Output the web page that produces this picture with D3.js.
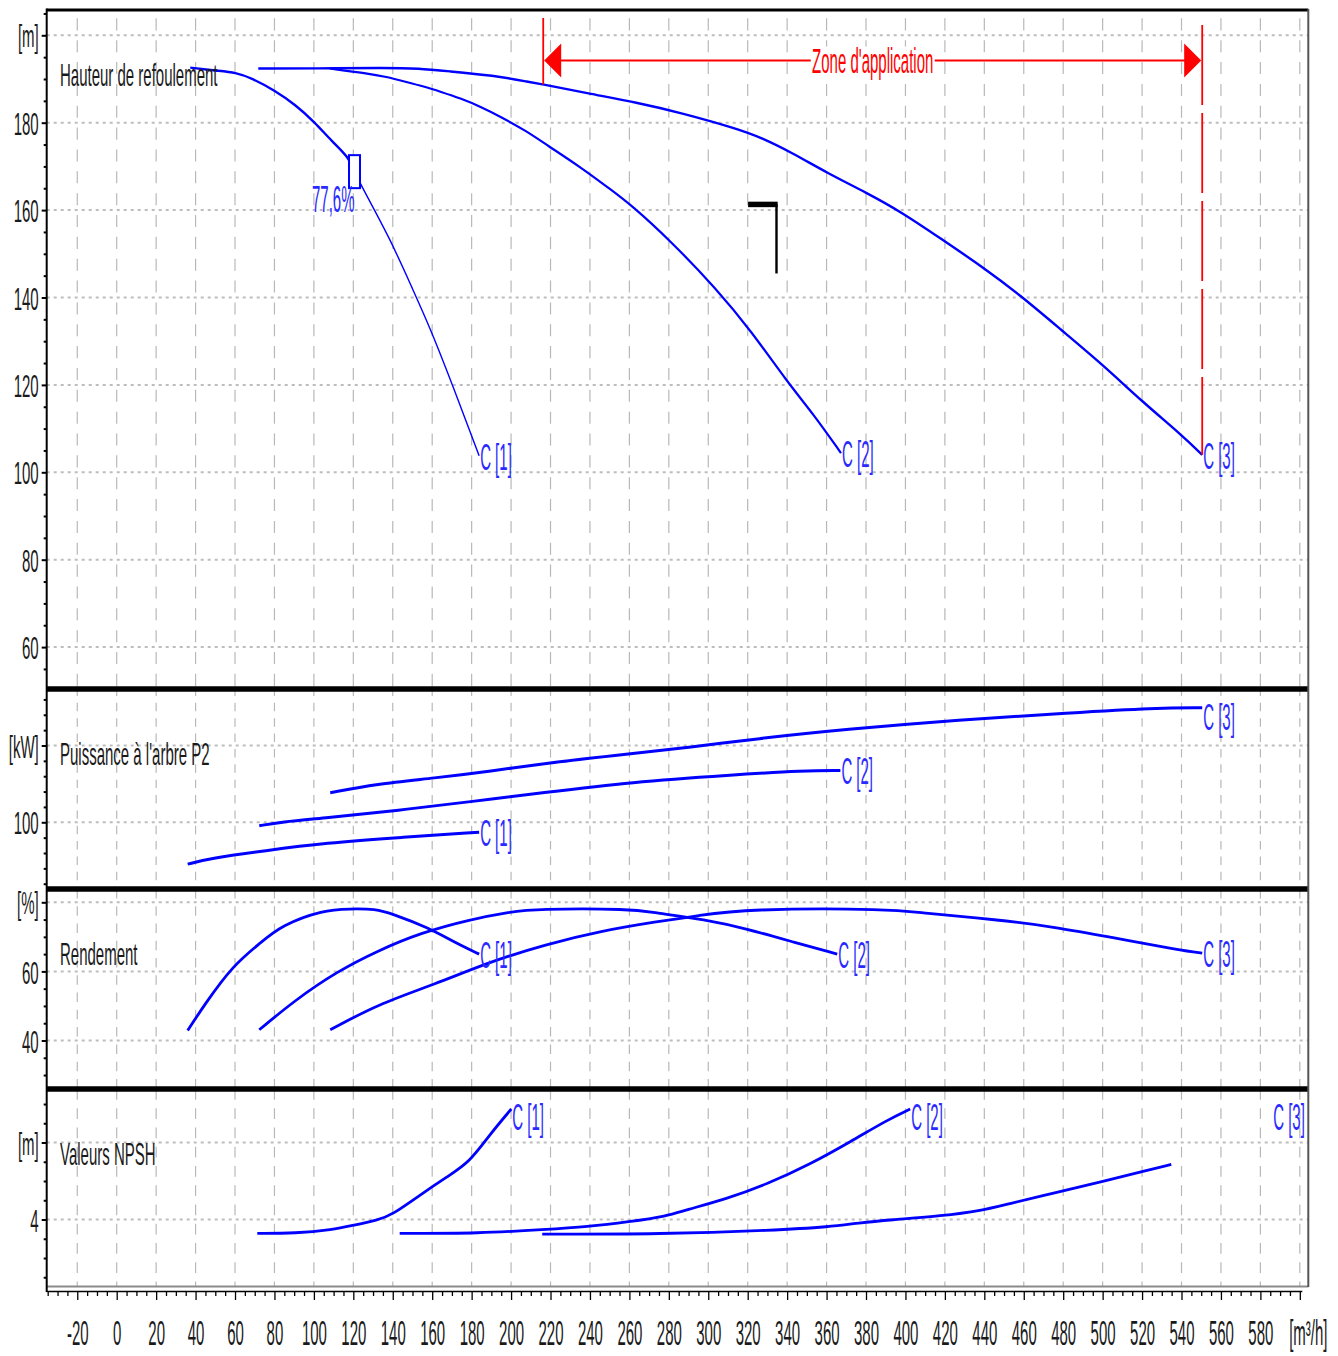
<!DOCTYPE html>
<html><head><meta charset="utf-8">
<script src="https://cdn.jsdelivr.net/npm/d3@7"></script>
<style>html,body{margin:0;padding:0;background:#fff;} svg{display:block;background:#fff;}</style>
</head><body>
<svg id="chart" width="1338" height="1356"></svg>
<script>
// ---------------- DATA ----------------
const curveLabels = ["C [1]", "C [2]", "C [3]"];
const panelTitles = ["Hauteur de refoulement", "Puissance à l'arbre P2", "Rendement", "Valeurs NPSH"];
const panelUnits = ["[m]", "[kW]", "[%]", "[m]"];
const xTicks = d3.range(-20, 601, 20);
const xUnit = "[m³/h]";
const headTicks = [60, 80, 100, 120, 140, 160, 180, 200];
const powerTicks = [100, 120];
const effTicks = [40, 60, 80];
const npshTicks = [4, 6];

// Head H [m]
const headQ1 = [37.3, 50.5, 60.5, 68.4, 79.7, 91.0, 100.2, 109.2, 117.7, 120.6, 123.9, 138.6, 149.9, 159.0, 170.3, 183.8];
const headH1 = [192.6, 191.9, 191.5, 190.2, 187.5, 184.0, 180.2, 175.7, 172.1, 168.8, 165.7, 153.5, 142.1, 133.0, 120.0, 103.8];
const headQ2 = [108, 127, 136.7, 146.3, 156.5, 164.1, 174.2, 184.9, 195, 207.7, 217.8, 236, 249.6, 260.9, 281.2, 303.9, 322, 340, 353.7, 367.3];
const headH2 = [192.4, 191.3, 190.5, 189.4, 188.2, 187.1, 185.6, 183.6, 181.3, 178.1, 175.0, 169.6, 165.0, 161.2, 152.8, 142.1, 132.2, 120.7, 113.1, 104.4];
const headQ3 = [71.8, 101.2, 136.7, 153.4, 167.6, 191.4, 208.2, 222.9, 239.1, 264, 285.8, 314.2, 327.4, 342.6, 360.3, 380.6, 397.8, 417.9, 440, 458, 480, 500.1, 520, 540.2, 550.5];
const headH3 = [192.4, 192.4, 192.6, 192.4, 191.8, 190.8, 189.4, 188.2, 186.7, 184.6, 182.3, 178.7, 176.5, 173.1, 168.5, 163.9, 159.6, 153.5, 146.7, 140.6, 132.2, 124.6, 116.2, 108.5, 104.0];

// Power P2 [kW]
const powQ1 = [36, 47.4, 75.3, 105.7, 144.3, 183.8];
const powP1 = [89.1, 90.6, 92.6, 94.6, 96.1, 97.4];
const powQ2 = [72.3, 83.4, 104.7, 142.8, 181.3, 214.8, 261.4, 311.1, 349.2, 367];
const powP2 = [99.1, 100.1, 101.1, 103.1, 105.5, 107.6, 110.5, 112.3, 113.5, 113.5];
const powQ3 = [108.3, 131.6, 161, 191, 219.3, 250.8, 293.4, 323.3, 369.5, 427.3, 483.5, 526.6, 550.5];
const powP3 = [107.7, 110.0, 111.5, 113.4, 115.5, 117.3, 119.7, 121.7, 124.2, 126.7, 128.5, 129.8, 129.8];

// Efficiency [%]
const effQ1 = [36, 44.8, 58.9, 73, 83.4, 104.7, 118.4, 131.1, 140, 157.5, 171.7, 183.8];
const effE1 = [42.9, 50.6, 61.7, 68.3, 73.3, 77.8, 78.1, 78.1, 76.6, 72.8, 68.3, 65.0];
const effQ2 = [72.3, 90.5, 111.8, 132.9, 153.9, 178.8, 199.9, 212.2, 261.4, 272.1, 298.4, 319.7, 344.4, 365.4];
const effE2 = [43.1, 51.7, 60.0, 66.1, 71.1, 75.0, 77.2, 78.1, 78.1, 77.0, 75.0, 72.3, 68.3, 65.0];
const effQ3 = [108.3, 132.9, 161, 189.3, 217.5, 245.7, 273.9, 294.9, 318, 393.8, 407.5, 446.5, 476.4, 502.8, 539.8, 550.5];
const effE3 = [43.1, 50.6, 56.2, 62.8, 67.8, 71.7, 74.4, 76.1, 78.1, 78.1, 76.9, 75.0, 72.8, 70.0, 66.1, 65.3];

// NPSH [m]
const npshQ1 = [71.3, 90.5, 109.8, 118.9, 132.6, 139.7, 153.9, 168.1, 178.8, 189.4, 200.1];
const npshN1 = [3.64, 3.64, 3.74, 3.84, 3.99, 4.12, 4.64, 5.13, 5.48, 6.22, 6.87];
const npshQ2 = [143.5, 184, 217.5, 238.6, 259.9, 279.2, 288, 309.1, 330.4, 351.5, 372.5, 390.2, 402.4];
const npshN2 = [3.64, 3.64, 3.74, 3.81, 3.94, 4.09, 4.24, 4.53, 4.93, 5.43, 6.03, 6.57, 6.87];
const npshQ3 = [215.8, 275.6, 334, 361.8, 376.1, 392, 418.4, 439.4, 450.1, 478.5, 499.5, 520.6, 534.8];
const npshN3 = [3.62, 3.62, 3.72, 3.81, 3.91, 3.99, 4.09, 4.24, 4.38, 4.73, 4.98, 5.25, 5.43];
const npshLabel3Q = 586;

// Best efficiency point & application zone
const bepQ = 120.6, bepH = 168.8, bepText = "77,6%";
const zoneQ = [216.3, 550.5];
const zoneText = "Zone d'application";
const markQ = [320.2, 334.6], markH = [161.3, 145.5];

// ---------------- LAYOUT ----------------
const svg = d3.select("#chart");
const FONT = "'Liberation Sans', Arimo, Arial, sans-serif";
const XL = 46.7, XR = 1308.3;
const x = d3.scaleLinear().domain([-35.5, 604.3]).range([XL, XR]);

const panels = [
  {top: 10, bottom: 689, domain: [50.41, 205.79], ticks: headTicks, minor: 5},
  {top: 689, bottom: 889, domain: [82.63, 134.71], ticks: powerTicks, minor: 4},
  {top: 889, bottom: 1089, domain: [25.96, 83.85], ticks: effTicks, minor: 5},
  {top: 1089, bottom: 1287, domain: [2.247, 7.39], ticks: npshTicks, minor: 0.5}
];
panels.forEach(p => { p.y = d3.scaleLinear().domain(p.domain).range([p.bottom, p.top]); });

const defs = svg.append("defs");
panels.forEach((p, i) => {
  defs.append("clipPath").attr("id", "clip" + i).append("rect")
    .attr("x", XL).attr("y", p.top).attr("width", XR - XL).attr("height", p.bottom - p.top);
});

function addText(g, tx, ty, s, o = {}) {
  return g.append("text")
    .attr("transform", `translate(${tx},${ty}) scale(1,${o.sy || 2.15})`)
    .attr("text-anchor", o.anchor || "start")
    .style("font-family", FONT).style("font-size", (o.size || 15) + "px")
    .attr("fill", o.fill || "#1a1a1a").text(s);
}

// ---------------- GRID ----------------
const grid = svg.append("g");
panels.forEach((p, i) => {
  const g = grid.append("g").attr("clip-path", `url(#clip${i})`);
  const step = p.minor;
  const pxStep = Math.abs(p.y(0) - p.y(step));
  const dash = pxStep * 0.55, gap = pxStep - dash;
  const v0 = Math.floor(p.domain[0] / step) * step;
  g.selectAll("line.v").data(xTicks).join("line").attr("class", "v")
    .attr("x1", d => x(d)).attr("x2", d => x(d))
    .attr("y1", p.y(v0)).attr("y2", p.top)
    .attr("stroke", "#b8b8b8").attr("stroke-width", 1.2)
    .attr("stroke-dasharray", `${dash},${gap}`)
    .attr("stroke-dashoffset", dash + gap / 2);
  g.selectAll("line.h").data(p.ticks).join("line").attr("class", "h")
    .attr("x1", XL).attr("x2", XR)
    .attr("y1", d => p.y(d)).attr("y2", d => p.y(d))
    .attr("stroke", "#bdbdbd").attr("stroke-width", 2)
    .attr("stroke-dasharray", "3,4");
});

// ---------------- CURVES ----------------
const BLUE = "#0000ff", LBLUE = "#2a2aff", RED = "#ff0000";
const pts = (qs, vs) => qs.map((q, i) => [q, vs[i]]);
function drawLine(p, data, w) {
  const line = d3.line().x(d => x(d[0])).y(d => p.y(d[1])).curve(d3.curveBasis);
  svg.append("path").datum(data).attr("d", line)
    .attr("fill", "none").attr("stroke", BLUE).attr("stroke-width", w)
    .attr("stroke-linejoin", "round");
}
const [P0, P1, P2, P3] = panels;

// Head
const bepIdx = headQ1.indexOf(bepQ);
const h1 = pts(headQ1, headH1);
drawLine(P0, h1.slice(0, bepIdx + 1), 2.4);
drawLine(P0, h1.slice(bepIdx), 1.4);
drawLine(P0, pts(headQ2, headH2), 2.2);
drawLine(P0, pts(headQ3, headH3), 2.4);
// Power
drawLine(P1, pts(powQ1, powP1), 3);
drawLine(P1, pts(powQ2, powP2), 3);
drawLine(P1, pts(powQ3, powP3), 3);
// Efficiency
drawLine(P2, pts(effQ1, effE1), 2.8);
drawLine(P2, pts(effQ2, effE2), 2.8);
drawLine(P2, pts(effQ3, effE3), 2.8);
// NPSH
drawLine(P3, pts(npshQ1, npshN1), 2.8);
drawLine(P3, pts(npshQ2, npshN2), 2.8);
drawLine(P3, pts(npshQ3, npshN3), 2.8);

// BEP box
svg.append("rect")
  .attr("x", x(bepQ) - 5.5).attr("y", P0.y(bepH) - 16.5)
  .attr("width", 11).attr("height", 33)
  .attr("fill", "#fff").attr("stroke", BLUE).attr("stroke-width", 2);
addText(svg, x(bepQ), P0.y(bepH) + 40, bepText, {anchor: "end", sy: 2.5, fill: LBLUE});

// Curve end labels
const CAP = 0.72 * 15 * 2.5;
function curveLabel(p, q, v, s) {
  const endY = v == null ? -1e9 : p.y(v);
  const top = Math.max(endY - 13, p.top + 14);
  addText(svg, x(q) + 1, top + CAP, s, {sy: 2.5, fill: LBLUE});
}
curveLabel(P0, headQ1[headQ1.length - 1], headH1[headH1.length - 1], curveLabels[0]);
curveLabel(P0, headQ2[headQ2.length - 1], headH2[headH2.length - 1], curveLabels[1]);
curveLabel(P0, headQ3[headQ3.length - 1], headH3[headH3.length - 1], curveLabels[2]);
curveLabel(P1, powQ1[powQ1.length - 1], powP1[powP1.length - 1], curveLabels[0]);
curveLabel(P1, powQ2[powQ2.length - 1], powP2[powP2.length - 1], curveLabels[1]);
curveLabel(P1, powQ3[powQ3.length - 1], powP3[powP3.length - 1], curveLabels[2]);
curveLabel(P2, effQ1[effQ1.length - 1], effE1[effE1.length - 1], curveLabels[0]);
curveLabel(P2, effQ2[effQ2.length - 1], effE2[effE2.length - 1], curveLabels[1]);
curveLabel(P2, effQ3[effQ3.length - 1], effE3[effE3.length - 1], curveLabels[2]);
curveLabel(P3, npshQ1[npshQ1.length - 1], npshN1[npshN1.length - 1], curveLabels[0]);
curveLabel(P3, npshQ2[npshQ2.length - 1], npshN2[npshN2.length - 1], curveLabels[1]);
curveLabel(P3, npshLabel3Q, null, curveLabels[2]);

// black mark
svg.append("line").attr("x1", x(markQ[0])).attr("x2", x(markQ[1]) + 1.2)
  .attr("y1", P0.y(markH[0])).attr("y2", P0.y(markH[0]))
  .attr("stroke", "#000").attr("stroke-width", 5.5);
svg.append("line").attr("x1", x(markQ[1])).attr("x2", x(markQ[1]))
  .attr("y1", P0.y(markH[0])).attr("y2", P0.y(markH[1]))
  .attr("stroke", "#000").attr("stroke-width", 2.4);

// ---------------- APPLICATION ZONE ----------------
const h3 = d3.scaleLinear().domain(headQ3).range(headH3);
const zx0 = x(zoneQ[0]), zx1 = x(zoneQ[1]);
const zTop = 18, zArrowY = 60.5;
svg.append("line").attr("x1", zx0).attr("x2", zx0).attr("y1", zTop).attr("y2", P0.y(h3(zoneQ[0])))
  .attr("stroke", RED).attr("stroke-width", 1.8);
svg.append("line").attr("x1", zx1).attr("x2", zx1).attr("y1", zTop).attr("y2", P0.y(h3(zoneQ[1])))
  .attr("stroke", RED).attr("stroke-width", 1.8)
  .attr("stroke-dasharray", "80,8").attr("stroke-dashoffset", 81);
svg.append("line").attr("x1", zx0 + 10).attr("x2", zx1 - 10).attr("y1", zArrowY).attr("y2", zArrowY)
  .attr("stroke", RED).attr("stroke-width", 2.2);
svg.append("path").attr("d", `M${zx0 + 1},${zArrowY} L${zx0 + 18},${zArrowY - 17} L${zx0 + 18},${zArrowY + 17} Z`).attr("fill", RED);
svg.append("path").attr("d", `M${zx1 - 1},${zArrowY} L${zx1 - 18},${zArrowY - 17} L${zx1 - 18},${zArrowY + 17} Z`).attr("fill", RED);
const zMid = (zx0 + zx1) / 2;
svg.append("rect").attr("x", zMid - 62).attr("y", zArrowY - 14).attr("width", 124).attr("height", 28).attr("fill", "#fff");
addText(svg, zMid, zArrowY + 12, zoneText, {anchor: "middle", sy: 2.3, fill: RED});

// ---------------- TITLES ----------------
panels.forEach((p, i) => addText(svg, 60, p.top + 76, panelTitles[i], {sy: 2.15}));

// ---------------- FRAME ----------------
svg.append("line").attr("x1", XL).attr("x2", XR).attr("y1", 10).attr("y2", 10)
  .attr("stroke", "#000").attr("stroke-width", 3);
[689, 889, 1089].forEach(yy => svg.append("line").attr("x1", XL).attr("x2", XR)
  .attr("y1", yy).attr("y2", yy).attr("stroke", "#000").attr("stroke-width", 5.5));
svg.append("line").attr("x1", XL).attr("x2", XR).attr("y1", 1286.5).attr("y2", 1286.5)
  .attr("stroke", "#8a8a8a").attr("stroke-width", 2);
svg.append("line").attr("x1", XR).attr("x2", XR).attr("y1", 9).attr("y2", 1287)
  .attr("stroke", "#555").attr("stroke-width", 2);

// ---------------- Y AXES ----------------
panels.forEach((p, i) => {
  const ax = svg.append("g").attr("transform", `translate(${XL},0)`);
  const minorVals = d3.range(Math.ceil(p.domain[0] / p.minor) * p.minor, p.domain[1], p.minor)
    .filter(v => !p.ticks.some(t => Math.abs(t - v) < 1e-6));
  const minorAxis = ax.append("g").call(d3.axisLeft(p.y).tickValues(minorVals).tickSize(3).tickFormat(""));
  minorAxis.select(".domain").remove();
  minorAxis.selectAll("line").attr("stroke", "#000").attr("stroke-width", 2);
  const top = p.ticks[p.ticks.length - 1];
  const major = ax.append("g").call(d3.axisLeft(p.y).tickValues(p.ticks).tickSize(5)
    .tickFormat(d => d === top ? panelUnits[i] : d));
  major.select(".domain").remove();
  major.selectAll("line").attr("stroke", "#000").attr("stroke-width", 2);
  major.selectAll("text")
    .attr("x", -8).attr("dy", "0.36em")
    .attr("transform", "scale(1,2.15)")
    .attr("fill", "#1a1a1a")
    .style("font-family", FONT).style("font-size", "15px");
});
svg.append("line").attr("x1", XL).attr("x2", XL).attr("y1", 8.5).attr("y2", 1292)
  .attr("stroke", "#000").attr("stroke-width", 2);

// ---------------- X AXIS ----------------
const xAxisG = svg.append("g").attr("transform", "translate(0,1291)");
const minorX = d3.range(-35, 601, 5).filter(v => v % 20 !== 0);
const xm = xAxisG.append("g").call(d3.axisBottom(x).tickValues(minorX).tickSize(5).tickFormat(""));
xm.select(".domain").remove();
xm.selectAll("line").attr("stroke", "#000").attr("stroke-width", 1.3);
const xM = xAxisG.append("g").call(d3.axisBottom(x).tickValues(xTicks).tickSize(9)
  .tickFormat(d => d === 600 ? xUnit : d));
xM.select(".domain").attr("d", `M${XL},0.5H${XR - 6}`).attr("stroke", "#000").attr("stroke-width", 1.5);
xM.selectAll("line").attr("stroke", "#000").attr("stroke-width", 1.3);
xM.selectAll("text")
  .attr("y", null).attr("dy", null)
  .attr("transform", d => `translate(${d === 600 ? 8 : 0},54) scale(1,2.3)`)
  .attr("fill", "#1a1a1a")
  .style("font-family", FONT).style("font-size", "15px");
</script>
</body></html>
